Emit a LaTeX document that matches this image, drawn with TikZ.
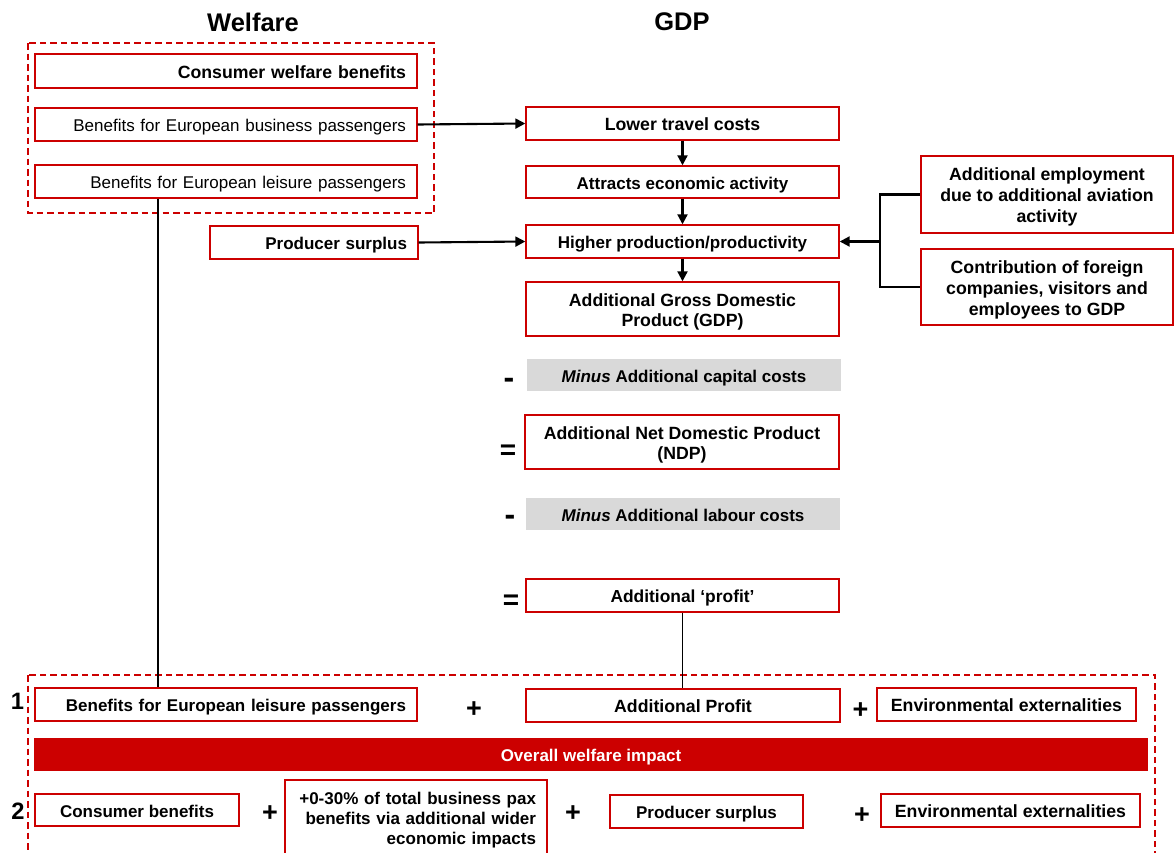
\documentclass[tikz,border=0pt]{standalone}
\usepackage{fontspec}
\setmainfont{Liberation Sans}
\usetikzlibrary{arrows.meta}
\definecolor{bred}{HTML}{CC0000}
\definecolor{bgray}{HTML}{D9D9D9}
\newcommand\topstrut{\rule{0pt}{18.5pt}}
\newcommand\botstrut{\rule[-4pt]{0pt}{4pt}}
\begin{document}
\begin{tikzpicture}[x=1pt,y=-1pt,
 box/.style={draw=bred, line width=1.4pt, fill=white, inner xsep=11pt, inner ysep=0pt,
   font=\fontsize{17}{20}\selectfont\bfseries, align=center},
 big/.style={font=\fontsize{17.7}{20}\selectfont\bfseries},
 one/.style={text height=18.2pt, text depth=3.7pt},
 rbox/.style={box, align=right},
 gbox/.style={fill=bgray, inner sep=0pt, font=\fontsize{17}{20}\selectfont\bfseries, one},
 arr/.style={line width=2.1pt, -{Triangle[length=10pt,width=10pt]}},
 ln/.style={line width=1.3pt},
 dbox/.style={draw=bred, line width=1.3pt, dash pattern=on 6.5pt off 4pt},
 minus/.style={font=\fontsize{32}{32}\selectfont\bfseries, inner sep=0pt, anchor=north},
 equal/.style={font=\fontsize{28}{28}\selectfont\bfseries, inner sep=0pt, anchor=north},
 plus/.style={font=\fontsize{27}{27}\selectfont\bfseries, inner sep=0pt, anchor=north},
 num/.style={font=\fontsize{23.7}{24}\selectfont\bfseries, inner sep=0pt, anchor=north},
 ttl/.style={font=\fontsize{25.5}{28}\selectfont\bfseries, inner sep=0pt}]
\useasboundingbox (0,0) rectangle (1176,852);
\clip (0,0) rectangle (1176,852);
\fill[white] (0,0) rectangle (1176,852);

% titles
\node[ttl] (tw) at (253,22) {Welfare};
\node[ttl] (tg) at (682,22) {GDP};

% dashed groups
\draw[dbox] (28,43) rectangle (434,213);
\draw[dbox] (28,675) rectangle (1155,880);

% left column
\node[rbox, big, one, text width=360pt, minimum height=34pt] (cwb) at (226,71) {Consumer welfare benefits};
\node[rbox, one, text width=360pt, minimum height=33pt, font=\fontsize{17}{20}\selectfont\mdseries] (bus) at (226,124.5) {Benefits for European business passengers};
\node[rbox, one, text width=360pt, minimum height=33pt, font=\fontsize{17}{20}\selectfont\mdseries] (lei) at (226,181.5) {Benefits for European leisure passengers};
\node[rbox, one, text width=186pt, minimum height=33pt] (ps) at (314,242.5) {Producer surplus};

% centre column
\node[box, big, one, minimum width=313pt, minimum height=33pt] (ltc) at (682.5,123.5) {Lower travel costs};
\node[box, one, minimum width=313pt, minimum height=32pt] (aea) at (682.5,182) {Attracts economic activity};
\node[box, one, minimum width=313pt, minimum height=33pt] (hpp) at (682.5,241.5) {Higher production/productivity};
\node[box, big, minimum width=313pt, minimum height=54pt] (gdp) at (682.5,309) {\topstrut Additional Gross Domestic\\Product (GDP)\botstrut};
\node[gbox, minimum width=314pt, minimum height=32pt] (cap) at (684,375) {\textit{Minus} Additional capital costs};
\node[box, big, minimum width=314pt, minimum height=54pt] (ndp) at (682,442) {\topstrut Additional Net Domestic Product\\(NDP)\botstrut};
\node[gbox, minimum width=314pt, minimum height=32pt] (lab) at (683,514) {\textit{Minus} Additional labour costs};
\node[box, one, minimum width=313pt, minimum height=33pt, font=\fontsize{17.4}{20}\selectfont\bfseries] (prof) at (682.5,595.5) {Additional ‘profit’};

\node[minus] (s1) at (509,378) {-};
\node[equal] (s2) at (508,445) {=};
\node[minus] (s3) at (510,515) {-};
\node[equal] (s4) at (511,595) {=};

% right column
\node[box, minimum width=252pt, minimum height=77pt, font=\fontsize{17.7}{21}\selectfont\bfseries] (emp) at (1047,194.5) {\topstrut Additional employment\\due to additional aviation\\activity\botstrut};
\node[box, minimum width=252pt, minimum height=76pt, font=\fontsize{17.7}{21}\selectfont\bfseries] (con) at (1047,287) {\topstrut Contribution of foreign\\companies, visitors and\\employees to GDP\botstrut};

% bottom rows
\node[num] (n1) at (17.5,693) {1};
\node[rbox, one, text width=360pt, minimum height=33pt] (b1) at (226,704.5) {Benefits for European leisure passengers};
\node[plus] (p1) at (474,701) {+};
\node[box, big, one, minimum width=314pt, minimum height=33pt] (b2) at (683,705.5) {Additional Profit};
\node[plus] (p2) at (860.5,702) {+};
\node[box, big, one, minimum width=259pt, minimum height=33pt] (b3) at (1006.5,704.5) {Environmental externalities};

\node[fill=bred, text=white, inner sep=0pt, minimum width=1114pt, minimum height=33pt, one,
  font=\fontsize{17}{20}\selectfont\bfseries] (bar) at (591,754.5) {Overall welfare impact};

\node[num] (n2) at (18,803) {2};
\node[box, one, minimum width=204pt, minimum height=32pt] (c1) at (137,810) {Consumer benefits};
\node[plus] (p3) at (270,805) {+};
\node[rbox, text width=240pt, minimum height=74pt] (c2) at (416,817) {\topstrut +0-30\% of total business pax\\benefits via additional wider\\economic impacts\botstrut};
\node[plus] (p4) at (573,805) {+};
\node[box, one, minimum width=193pt, minimum height=33pt] (c3) at (706.5,811.5) {Producer surplus};
\node[plus] (p5) at (862,807) {+};
\node[box, big, one, minimum width=259pt, minimum height=33pt] (c4) at (1010.5,810.5) {Environmental externalities};

% connectors
\draw[arr] (bus.east) -- (ltc.west);
\draw[arr] (ps.east) -- (hpp.west);
\draw[arr] (ltc.south) -- (aea.north);
\draw[arr] (aea.south) -- (hpp.north);
\draw[arr] (hpp.south) -- (gdp.north);

\coordinate (bx) at (880,0);
\draw[line width=2.1pt] (emp.west) -- (emp.west -| bx) -- (con.west -| bx) -- (con.west);
\draw[arr] (hpp.east -| bx) -- (hpp.east);

\coordinate (j1) at (158,0);
\draw[ln] (lei.south -| j1) -- (b1.north -| j1);
\draw[ln] (prof.south) -- (prof.south |- b2.north);
\end{tikzpicture}
\end{document}
